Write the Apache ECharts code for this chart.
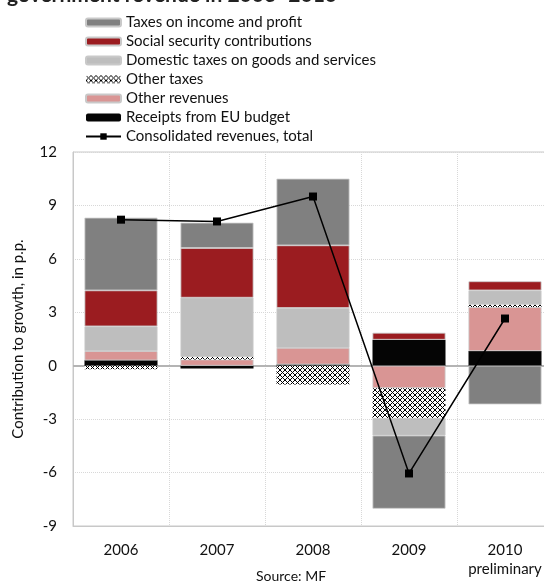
<!DOCTYPE html>
<html>
<head>
<meta charset="utf-8">
<script src="https://cdn.jsdelivr.net/npm/echarts@6/dist/echarts.min.js"></script>
<style>
html,body{margin:0;padding:0;background:#fff;overflow:hidden;width:544px;height:581px;}
#chart{width:570px;height:581px;}
</style>
</head>
<body>
<div id="chart"></div>
<script>
const categories = ['2006', '2007', '2008', '2009', '2010\npreliminary'];
const incomeTaxes = [4.08, 1.42, 3.74, -4.11, -2.17];
const socialSecurity = [2.02, 2.79, 3.52, 0.39, 0.51];
const domesticTaxes = [1.39, 3.32, 2.24, -0.98, 0.80];
const otherTaxes = [-0.20, 0.15, -1.05, -1.68, 0.14];
const otherRevenues = [0.52, 0.35, 0.93, -1.26, 2.47];
const euReceipts = [0.30, -0.15, 0.07, 1.46, 0.82];
const totalRevenues = [8.2, 8.1, 9.5, -6.05, 2.65];
const yTicks = [-9, -6, -3, 0, 3, 6, 9, 12];

const FONT = 'Lato';

// "x" mesh pattern for "Other taxes"
const T = 5;
const pc = document.createElement('canvas');
pc.width = T; pc.height = T;
const pctx = pc.getContext('2d');
pctx.fillStyle = '#ffffff';
pctx.fillRect(0, 0, T, T);
pctx.fillStyle = '#000000';
for (let x = 0; x < T; x++) {
  for (let y = 0; y < T; y++) {
    if (x === y || x + y === T - 1) pctx.fillRect(x, y, 1, 1);
  }
}

const chart = echarts.init(document.getElementById('chart'));
const border = { borderColor: '#c9c9c9', borderWidth: 0.8 };
const barBase = { type: 'bar', stack: 'all', barWidth: 73, emphasis: { disabled: true } };

chart.setOption({
  animation: false,
  textStyle: { fontFamily: FONT },
  grid: { left: 73, top: 152, width: 480, height: 374, show: true, borderColor: '#c8c8c8', borderWidth: 1 },
  legend: {
    orient: 'vertical', left: 80, top: 10, itemWidth: 35, itemHeight: 8, itemGap: 4,
    textStyle: { fontFamily: FONT, fontSize: 15, color: '#111' },
    data: [
      { name: 'Taxes on income and profit' },
      { name: 'Social security contributions' },
      { name: 'Domestic taxes on goods and services' },
      { name: 'Other taxes' },
      { name: 'Other revenues' },
      { name: 'Receipts from EU budget' },
      { name: 'Consolidated revenues, total' }
    ]
  },
  xAxis: {
    type: 'category', data: categories,
    axisLine: { onZero: false, lineStyle: { color: '#c8c8c8' } },
    axisTick: { show: false },
    axisLabel: { interval: 0, fontFamily: FONT, fontSize: 15, color: '#111', margin: 15, lineHeight: 19 },
    splitLine: { show: true, interval: 0, lineStyle: { type: 'dotted', color: '#d8d8d8' } }
  },
  yAxis: {
    type: 'value', min: -9, max: 12, interval: 3,
    name: 'Contribution to growth, in p.p.', nameLocation: 'middle', nameGap: 47,
    nameTextStyle: { fontFamily: FONT, fontSize: 15, color: '#111' },
    axisLine: { show: true, lineStyle: { color: '#c8c8c8' } },
    axisTick: { show: false },
    axisLabel: { fontFamily: FONT, fontSize: 15, color: '#111', margin: 16,
      formatter: v => yTicks.includes(v) ? String(v) : '' },
    splitLine: { show: true, lineStyle: { type: 'dotted', color: '#d8d8d8' } }
  },
  series: [
    Object.assign({}, barBase, { name: 'Receipts from EU budget', data: euReceipts, itemStyle: { color: '#050505' } }),
    Object.assign({}, barBase, { name: 'Other revenues', data: otherRevenues, itemStyle: Object.assign({ color: '#d99594' }, border) }),
    Object.assign({}, barBase, { name: 'Other taxes', data: otherTaxes, itemStyle: { color: { image: pc, repeat: 'repeat' } } }),
    Object.assign({}, barBase, { name: 'Domestic taxes on goods and services', data: domesticTaxes, itemStyle: Object.assign({ color: '#bebebe' }, border) }),
    Object.assign({}, barBase, { name: 'Social security contributions', data: socialSecurity, itemStyle: Object.assign({ color: '#9b1c20' }, border) }),
    Object.assign({}, barBase, { name: 'Taxes on income and profit', data: incomeTaxes, itemStyle: Object.assign({ color: '#808080' }, border) }),
    {
      name: 'Consolidated revenues, total', type: 'line', data: totalRevenues,
      symbol: 'rect', symbolSize: 8, z: 10,
      lineStyle: { color: '#000', width: 1.5 }, itemStyle: { color: '#000' },
      emphasis: { disabled: true },
      markLine: {
        silent: true, symbol: 'none', label: { show: false },
        lineStyle: { color: '#b4b4b4', type: 'solid', width: 2 },
        data: [{ yAxis: 0 }], z: 1
      }
    }
  ],
  graphic: [
    { type: 'text', left: 7, top: -15, style: { text: 'government revenue in 2006–2010', font: 'bold 21px ' + FONT, fill: '#222' } },
    { type: 'text', left: 256, top: 569, style: { text: 'Source: MF', font: '14px ' + FONT, fill: '#111' } }
  ]
});
</script>
</body>
</html>
